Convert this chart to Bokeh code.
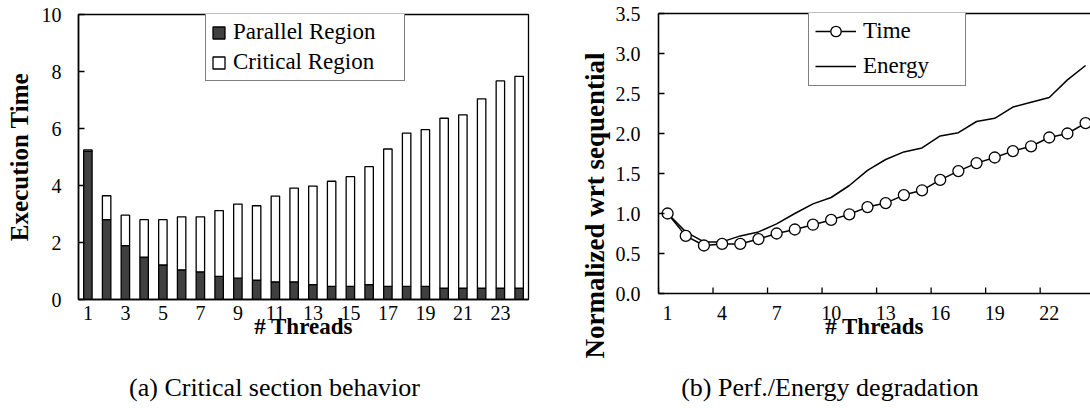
from bokeh.plotting import figure
from bokeh.layouts import row, column
from bokeh.models import (ColumnDataSource, FixedTicker, Legend, LegendItem,
                          LinearAxis, Range1d, Title, PrintfTickFormatter)
from bokeh.embed import file_html
from bokeh.resources import INLINE

# ---- data -------------------------------------------------------------
threads = list(range(1, 25))

# execution time split into parallel and critical parts
parallel_region = [5.20, 2.80, 1.89, 1.49, 1.21, 1.04, 0.97, 0.81, 0.75, 0.68,
                   0.62, 0.62, 0.52, 0.46, 0.46, 0.52, 0.46, 0.46, 0.46, 0.40,
                   0.40, 0.40, 0.40, 0.40]
critical_region = [0.05, 0.84, 1.07, 1.31, 1.59, 1.86, 1.93, 2.31, 2.60, 2.61,
                   3.01, 3.29, 3.46, 3.69, 3.85, 4.14, 4.82, 5.38, 5.50, 5.96,
                   6.08, 6.64, 7.27, 7.43]

# normalized with respect to the sequential run
time_norm = [1.00, 0.72, 0.60, 0.62, 0.62, 0.68, 0.75, 0.80, 0.86, 0.92,
             0.99, 1.08, 1.13, 1.23, 1.29, 1.42, 1.53, 1.63, 1.70, 1.78,
             1.84, 1.95, 2.00, 2.13]
energy_norm = [1.00, 0.77, 0.645, 0.645, 0.72, 0.77, 0.87, 1.00, 1.12, 1.20,
               1.35, 1.54, 1.675, 1.77, 1.82, 1.97, 2.01, 2.15, 2.19, 2.33,
               2.39, 2.45, 2.67, 2.85]

left_ticks = [1, 3, 5, 7, 9, 11, 13, 15, 17, 19, 21, 23]
right_ticks = [1, 4, 7, 10, 13, 16, 19, 22]
left_yticks = [0, 2, 4, 6, 8, 10]
right_yticks = [0.0, 0.5, 1.0, 1.5, 2.0, 2.5, 3.0, 3.5]

FONT = "Liberation Serif"
DARK = "#404040"
TICK_SIZE = "20px"
PANEL_H = 368
CAPTION_H = 40


def base_style(p):
    p.xgrid.visible = False
    p.ygrid.visible = False
    p.background_fill_color = "white"
    p.border_fill_color = "white"
    for ax in p.xaxis + p.yaxis:
        ax.axis_line_color = "black"
        ax.axis_line_width = 1.6
        ax.major_label_text_font = FONT
        ax.major_label_text_font_size = TICK_SIZE
        ax.major_label_text_color = "black"
        ax.minor_tick_line_color = None
        ax.axis_label_text_font = FONT
        ax.axis_label_text_font_style = "bold"
        ax.axis_label_text_color = "black"


def caption_strip(text, shift):
    # thin strip holding only the sub-figure caption, centred on its frame
    c = figure(width=545, height=CAPTION_H, x_range=Range1d(0, 1),
               y_range=Range1d(0, 1), output_backend="svg",
               toolbar_location=None, x_axis_location=None,
               y_axis_location=None, min_border_left=shift,
               min_border_right=0, min_border_top=33, min_border_bottom=0,
               frame_align=False, title=text)
    c.xgrid.visible = False
    c.ygrid.visible = False
    c.outline_line_color = None
    c.title.align = "center"
    c.title.standoff = 0
    c.title.text_font = FONT
    c.title.text_font_size = "26px"
    c.title.text_font_style = "normal"
    c.title.text_color = "black"
    return c


# ---- (a) stacked bars ---------------------------------------------------
p1 = figure(width=545, height=PANEL_H, x_range=Range1d(0.5, 24.5),
            y_range=Range1d(0, 10), output_backend="svg",
            toolbar_location=None, min_border_left=78, min_border_right=17,
            min_border_top=14, min_border_bottom=69, frame_align=False)
base_style(p1)
p1.outline_line_color = "black"
p1.outline_line_width = 1.3

src = ColumnDataSource(dict(threads=threads, parallel=parallel_region,
                            critical=critical_region))
bars = p1.vbar_stack(["parallel", "critical"], x="threads", width=0.45,
                     source=src, fill_color=[DARK, "white"],
                     line_color="black", line_width=1.3)

leg1 = Legend(items=[LegendItem(label="Parallel Region", renderers=[bars[0]]),
                     LegendItem(label="Critical Region", renderers=[bars[1]])],
              location=(127, 218), glyph_width=15, glyph_height=15,
              label_height=24, label_standoff=7, label_width=166,
              padding=5, spacing=4, margin=0,
              label_text_font=FONT, label_text_font_size="23px",
              label_text_color="black",
              border_line_color="black", border_line_width=1.3,
              background_fill_color="white", background_fill_alpha=1)
p1.add_layout(leg1)

xa = p1.xaxis[0]
xa.ticker = FixedTicker(ticks=left_ticks)
xa.major_tick_in = 0
xa.major_tick_out = 0
xa.major_label_standoff = 6
xa.axis_label = "# Threads"
xa.axis_label_text_font_size = "23px"
xa.axis_label_standoff = -9

ya = p1.yaxis[0]
ya.ticker = FixedTicker(ticks=left_yticks)
ya.major_tick_in = 6
ya.major_tick_out = 0
ya.major_tick_line_width = 1.3
ya.major_label_standoff = 17
ya.axis_label = "Execution Time"
ya.axis_label_text_font_size = "25px"
ya.axis_label_standoff = 6

# ---- (b) normalized time / energy ----------------------------------------
p2 = figure(width=545, height=PANEL_H, x_range=Range1d(0.5, 24.27),
            y_range=Range1d(0, 3.5), output_backend="svg",
            toolbar_location=None, min_border_left=113, min_border_right=0,
            min_border_top=13, min_border_bottom=75, frame_align=False)
base_style(p2)
p2.outline_line_color = None
xb = p2.xaxis[0]
yb = p2.yaxis[0]

line_energy = p2.line(threads, energy_norm, line_color="black", line_width=1.5)
line_time = p2.line(threads, time_norm, line_color="black", line_width=1.5)
pts_time = p2.scatter(threads, time_norm, marker="circle", size=11,
                      fill_color="white", line_color="black", line_width=1.3)

# category-boundary tick marks on the x axis
bounds = [t - 0.5 for t in right_ticks]
p2.segment(x0=bounds, y0=[0] * len(bounds), x1=bounds,
           y1=[0.075] * len(bounds), line_color="black", line_width=1.3)

# plain line along the top of the frame
top_line = LinearAxis(ticker=FixedTicker(ticks=[]), major_tick_in=0,
                      major_tick_out=0, minor_tick_in=0, minor_tick_out=0,
                      major_label_standoff=0,
                      axis_line_color="black", axis_line_width=1.6)
p2.add_layout(top_line, "above")

xb.ticker = FixedTicker(ticks=right_ticks)
xb.major_tick_in = 0
xb.major_tick_out = 0
xb.major_label_standoff = 12
xb.axis_label = "# Threads"
xb.axis_label_text_font_size = "23px"
xb.axis_label_standoff = -9

yb.ticker = FixedTicker(ticks=right_yticks)
yb.formatter = PrintfTickFormatter(format="%.1f")
yb.major_tick_in = 6
yb.major_tick_out = 0
yb.major_tick_line_width = 1.3
yb.major_label_standoff = 18

p2.add_layout(Title(text="Normalized wrt sequential", align="left",
                    offset=-65, standoff=5, text_font=FONT,
                    text_font_size="27px", text_font_style="bold",
                    text_color="black"), "left")

leg2 = Legend(items=[LegendItem(label="Time", renderers=[line_time, pts_time]),
                     LegendItem(label="Energy", renderers=[line_energy])],
              location=(150, 207), glyph_width=41, glyph_height=26,
              label_height=26, label_standoff=7, label_width=96,
              padding=6, spacing=9, margin=0,
              label_text_font=FONT, label_text_font_size="23px",
              label_text_color="black",
              border_line_color="black", border_line_width=1.3,
              background_fill_color="white", background_fill_alpha=1)
p2.add_layout(leg2)

cap1 = caption_strip("(a) Critical section behavior", 3)
cap2 = caption_strip("(b) Perf./Energy degradation", 24)

layout = column(row(p1, p2), row(cap1, cap2))
open("out.html", "w").write(file_html(layout, INLINE))
